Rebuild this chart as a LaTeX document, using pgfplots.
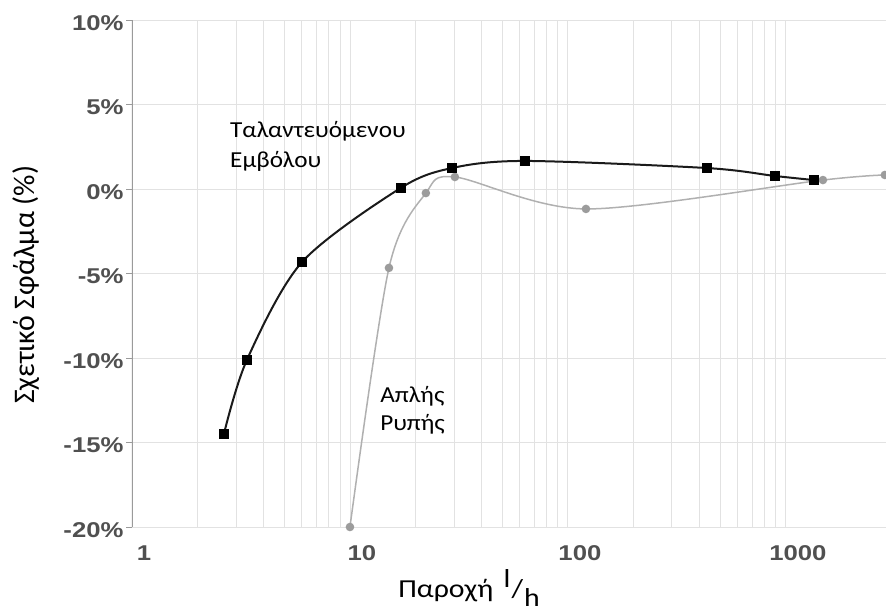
\documentclass[border=0pt]{standalone}
\usepackage{fontspec}
\setmainfont{Carlito}
\newfontfamily\annfont[FakeStretch=1.1]{Carlito}
\newfontfamily\labfont[FakeStretch=1.15]{Carlito}
\newfontfamily\tickfont[FakeStretch=1.2]{Liberation Sans}
\usepackage{pgfplots}
\pgfplotsset{compat=1.18}
\definecolor{gridc}{HTML}{E2E2E2}
\definecolor{tickc}{HTML}{505050}
\definecolor{axc}{HTML}{9A9A9A}
\definecolor{lgray}{HTML}{B0B0B0}
\definecolor{mgray}{HTML}{9C9C9C}
\definecolor{blk}{HTML}{1A1A1A}
\begin{document}
\begin{tikzpicture}
\begin{axis}[
  width=754bp, height=507bp, scale only axis,
  xmode=log, xmin=1, xmax=2880, ymin=-20, ymax=10,
  axis line style={draw=none},
  xtick={1,10,100,1000}, xticklabels={1,10,100,1000},
  ytick={-20,-15,-10,-5,0,5,10},
  yticklabels={-20\%,-15\%,-10\%,-5\%,0\%,5\%,10\%},
  xmajorgrids, xminorgrids, ymajorgrids,
  major grid style={draw=gridc, line width=0.9bp},
  minor grid style={draw=gridc, line width=0.9bp},
  tick align=outside,
  major tick length=6bp,
  major x tick style={draw=none},
  minor x tick style={draw=none},
  major y tick style={draw=axc, line width=0.9bp},
  xticklabel style={font=\tickfont\bfseries\fontsize{21.5}{24}\selectfont, text=tickc, xshift=12bp, yshift=-9bp},
  yticklabel style={font=\tickfont\bfseries\fontsize{21.5}{24}\selectfont, text=tickc, yshift=-3bp, xshift=1bp},
  xlabel={Παροχή\hspace{0.4em}\raisebox{10bp}{l}\kern1bp/\kern1bp\raisebox{-9bp}{h}},
  xlabel style={font=\labfont\fontsize{26}{29}\selectfont, at={(axis description cs:0.353,-0.140)}, anchor=base west, inner sep=0pt},
  ylabel={Σχετικό Σφάλμα (\%)},
  ylabel style={font=\fontsize{30}{33}\selectfont, at={(axis description cs:-0.141,0.478)}, anchor=center},
  clip=true,
]
\addplot[smooth, draw=lgray, line width=1.5bp, mark=*, mark size=3.5bp,
  mark options={fill=mgray, draw=mgray}] coordinates {
  (10.0,-20) (15.1,-4.67) (22.3,-0.24) (30.3,0.71) (121,-1.18) (1479,0.53) (2845,0.83)
};
\addplot[smooth, draw=blk, line width=2bp, mark=square*, mark size=4bp,
  mark options={fill=black, draw=black}] coordinates {
  (2.64,-14.5) (3.37,-10.1) (6.03,-4.32) (17.1,0.06) (29.4,1.24) (63.5,1.66) (434,1.24) (891,0.77) (1343,0.53)
};
\draw[draw=axc, line width=1.5bp] (rel axis cs:0,0) -- (rel axis cs:0,1);
\node[anchor=base west, inner sep=0pt, font=\annfont\fontsize{23}{26}\selectfont] at (axis description cs:0.130,0.769) {Ταλαντευόμενου};
\node[anchor=base west, inner sep=0pt, font=\annfont\fontsize{23}{26}\selectfont] at (axis description cs:0.130,0.710) {Εμβόλου};
\node[anchor=base west, inner sep=0pt, font=\annfont\fontsize{23}{26}\selectfont] at (axis description cs:0.329,0.2446) {Απλής};
\node[anchor=base west, inner sep=0pt, font=\annfont\fontsize{23}{26}\selectfont] at (axis description cs:0.329,0.191) {Ρυπής};
\coordinate (o) at (rel axis cs:0,0);
\coordinate (t) at (rel axis cs:1,1);
\end{axis}
\pgfresetboundingbox
\path[use as bounding box] ([xshift=-132bp,yshift=-89bp]o) rectangle ([yshift=20bp]t);
\end{tikzpicture}
\end{document}
